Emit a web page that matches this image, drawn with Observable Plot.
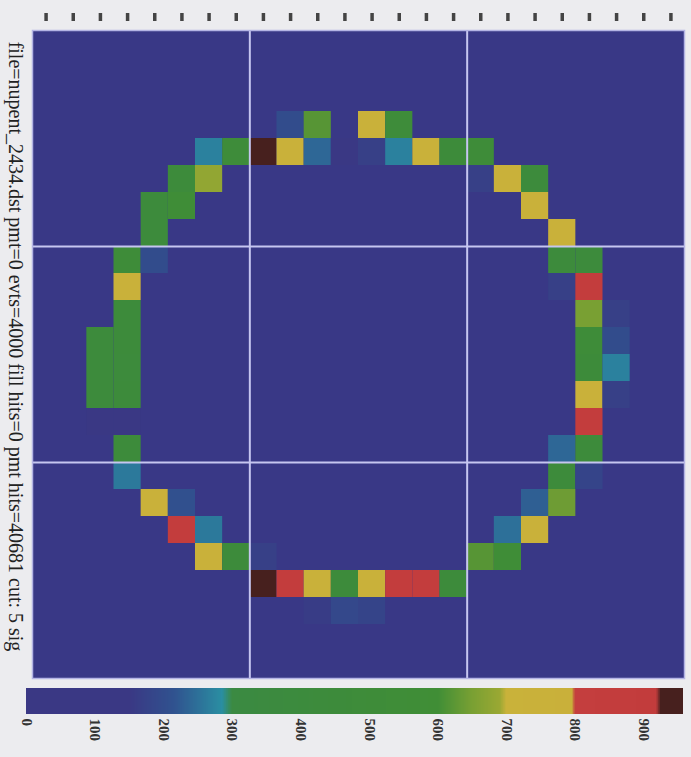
<!DOCTYPE html>
<html>
<head>
<meta charset="utf-8">
<script src="https://cdn.jsdelivr.net/npm/d3@7"></script>
<script src="https://cdn.jsdelivr.net/npm/@observablehq/plot@0.6"></script>
<style>
  html, body { margin: 0; padding: 0; background: #ececef; }
  #chart svg { display: block; }
</style>
</head>
<body>
<div id="chart"></div>
<script>
// ---- data ----
const titleText = "file=nupent_2434.dst pmt=0 evts=4000 fill hits=0 pmt hits=40681 cut: 5 sig";
const nCols = 24, nRows = 24;
const gridLines = [8, 16];
const topTicks = d3.range(nCols).map(i => i + 0.5);
const colorTicks = [0, 100, 200, 300, 400, 500, 600, 700, 800, 900];
const colorMax = 958;

const cellCols = [
  9, 10, 12, 13,
  6, 7, 8, 9, 10, 11, 12, 13, 14, 15, 16,
  5, 6, 16, 17, 18,
  4, 5, 18,
  4, 19,
  3, 4, 19, 20,
  3, 19, 20,
  3, 20, 21,
  2, 3, 20, 21,
  2, 3, 20, 21,
  2, 3, 20, 21,
  2, 3, 20,
  3, 19, 20,
  3, 19, 20,
  4, 5, 18, 19,
  5, 6, 17, 18,
  6, 7, 8, 16, 17,
  8, 9, 10, 11, 12, 13, 14, 15,
  10, 11, 12
];
const cellRows = [
  3, 3, 3, 3,
  4, 4, 4, 4, 4, 4, 4, 4, 4, 4, 4,
  5, 5, 5, 5, 5,
  6, 6, 6,
  7, 7,
  8, 8, 8, 8,
  9, 9, 9,
  10, 10, 10,
  11, 11, 11, 11,
  12, 12, 12, 12,
  13, 13, 13, 13,
  14, 14, 14,
  15, 15, 15,
  16, 16, 16,
  17, 17, 17, 17,
  18, 18, 18, 18,
  19, 19, 19, 19, 19,
  20, 20, 20, 20, 20, 20, 20, 20,
  21, 21, 21
];
const cellValues = [
  200, 620, 740, 480,
  270, 480, 940, 740, 240, 150, 170, 270, 740, 470, 500,
  450, 680, 170, 740, 430,
  430, 560, 740,
  430, 740,
  500, 200, 430, 430,
  740, 170, 860,
  450, 650, 170,
  430, 450, 520, 200,
  430, 430, 470, 270,
  430, 450, 740, 170,
  130, 140, 860,
  450, 240, 450,
  260, 450, 180,
  740, 210, 230, 640,
  860, 260, 250, 740,
  740, 450, 170, 620, 560,
  940, 860, 740, 450, 740, 860, 860, 450,
  160, 190, 180
];

// palette (ROOT-like rainbow as seen in the colour bar)
const paletteStops  = [0, 150, 215, 285, 300, 450, 600, 650, 690, 700, 795, 800, 918, 925, 958];
const paletteColors = ["#3a3884", "#3a3884", "#30528f", "#2a8ea2", "#3b8a42", "#3d8b3b", "#408e36",
                       "#79a033", "#9aa833", "#c9b23a", "#c9b03a", "#c43e3e", "#c23c3c", "#47201e", "#47201e"];
const plotBg = "#393886";

const cells = cellCols.map((c, i) => ({c, r: cellRows[i], v: cellValues[i]}));

const colorScale = {type: "linear", domain: paletteStops, range: paletteColors, interpolate: "rgb"};

const main = Plot.plot({
  width: 691, height: 684,
  marginTop: 30, marginLeft: 32, marginRight: 7, marginBottom: 6,
  x: {domain: [0, nCols], axis: null},
  y: {domain: [nRows, 0], axis: null},
  color: colorScale,
  style: {background: "transparent"},
  marks: [
    Plot.frame({fill: plotBg}),
    Plot.rect(cells, {x1: "c", x2: d => d.c + 1, y1: "r", y2: d => d.r + 1, fill: "v"}),
    Plot.ruleX(gridLines, {stroke: "#c6c6f0", strokeWidth: 2}),
    Plot.ruleY(gridLines, {stroke: "#c6c6f0", strokeWidth: 2}),
    Plot.frame({stroke: "#b4b4e4", strokeWidth: 1.5}),
    Plot.axisX(topTicks, {anchor: "top", tickSize: 8, dy: -10, tickFormat: () => "", label: null,
                          stroke: "#444", strokeWidth: 3.5}),
    Plot.text([titleText], {frameAnchor: "left", rotate: 90, dx: -17, dy: -8, textAnchor: "middle",
                            fontFamily: "Liberation Serif, serif", fontSize: 20, fill: "#222"})
  ]
});

const bar = Plot.plot({
  width: 691, height: 73,
  marginTop: 4, marginLeft: 26, marginRight: 8, marginBottom: 43,
  x: {domain: [0, colorMax], axis: null},
  color: colorScale,
  style: {background: "transparent"},
  marks: [
    Plot.rect(d3.range(0, colorMax, 1), {x1: d => d, x2: d => Math.min(d + 2, colorMax), fill: d => d,
                                         shapeRendering: "crispEdges"}),
    Plot.axisX(colorTicks, {anchor: "bottom", tickSize: 0, tickPadding: 4, tickRotate: 90, label: null,
                            fontFamily: "Liberation Serif, serif", fontSize: 15, fontWeight: "bold", fill: "#333"})
  ]
});

document.getElementById("chart").append(main, bar);
</script>
</body>
</html>
